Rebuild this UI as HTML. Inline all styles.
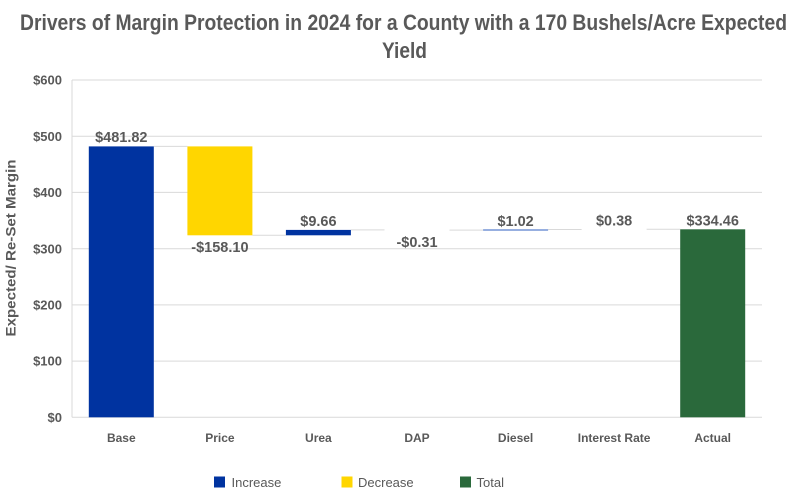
<!DOCTYPE html>
<html><head><meta charset="utf-8"><style>
html,body{margin:0;padding:0;background:#fff;}
svg{display:block;}
text{font-family:"Liberation Sans",Arial,sans-serif;fill:#595959;}
</style></head><body>
<svg width="800" height="500" viewBox="0 0 800 500" xmlns="http://www.w3.org/2000/svg">
<rect width="800" height="500" fill="#fff"/>
<!-- title -->
<text x="20" y="30" font-size="22" font-weight="bold" textLength="767" lengthAdjust="spacingAndGlyphs" fill="#555">Drivers of Margin Protection in 2024 for a County with a 170 Bushels/Acre Expected</text>
<text x="382" y="58" font-size="22" font-weight="bold" textLength="45" lengthAdjust="spacingAndGlyphs" fill="#555">Yield</text>
<!-- gridlines -->
<g stroke="#d9d9d9" stroke-width="1">
<line x1="72" y1="80" x2="762" y2="80"/>
<line x1="72" y1="136.2" x2="762" y2="136.2"/>
<line x1="72" y1="192.4" x2="762" y2="192.4"/>
<line x1="72" y1="248.7" x2="762" y2="248.7"/>
<line x1="72" y1="304.9" x2="762" y2="304.9"/>
<line x1="72" y1="361.1" x2="762" y2="361.1"/>
<line x1="72" y1="417.3" x2="762" y2="417.3"/>
<line x1="72" y1="80" x2="72" y2="417.3"/>
</g>
<!-- y tick labels -->
<g font-size="13" font-weight="bold" text-anchor="end">
<text x="62" y="84.6">$600</text>
<text x="62" y="140.8">$500</text>
<text x="62" y="197">$400</text>
<text x="62" y="253.3">$300</text>
<text x="62" y="309.5">$200</text>
<text x="62" y="365.7">$100</text>
<text x="62" y="421.9">$0</text>
</g>
<!-- y axis title -->
<text transform="translate(15.5,248) rotate(-90)" text-anchor="middle" font-size="14" font-weight="bold" textLength="177" lengthAdjust="spacingAndGlyphs">Expected/ Re-Set Margin</text>
<!-- connectors -->
<g stroke="#d9d9d9" stroke-width="1">
<line x1="153.8" y1="146.4" x2="187.4" y2="146.4"/>
<line x1="252.4" y1="235.3" x2="285.9" y2="235.3"/>
<line x1="350.9" y1="229.9" x2="384.5" y2="229.9"/>
<line x1="449.5" y1="230.1" x2="483.1" y2="230.1"/>
<line x1="548.1" y1="229.5" x2="581.6" y2="229.5"/>
<line x1="646.6" y1="229.3" x2="680.2" y2="229.3"/>
</g>
<!-- bars -->
<rect x="88.8" y="146.4" width="65" height="270.9" fill="#0033a0"/>
<rect x="187.4" y="146.4" width="65" height="88.9" fill="#ffd600"/>
<rect x="285.9" y="229.9" width="65" height="5.4" fill="#0033a0"/>
<rect x="483.1" y="229.5" width="65" height="1" fill="#2f5fc0"/>
<rect x="680.2" y="229.3" width="65" height="188" fill="#2a693b"/>
<!-- data labels -->
<g font-size="14.5" font-weight="bold" text-anchor="middle">
<text x="121.3" y="141.8">$481.82</text>
<text x="219.9" y="251.8">-$158.10</text>
<text x="318.4" y="225.8">$9.66</text>
<text x="417" y="246.8">-$0.31</text>
<text x="515.6" y="225.8">$1.02</text>
<text x="614.1" y="225.3">$0.38</text>
<text x="712.7" y="225.3">$334.46</text>
</g>
<!-- category labels -->
<g font-size="12" font-weight="bold" text-anchor="middle">
<text x="121.3" y="442">Base</text>
<text x="219.9" y="442">Price</text>
<text x="318.4" y="442">Urea</text>
<text x="417" y="442">DAP</text>
<text x="515.6" y="442">Diesel</text>
<text x="614.1" y="442">Interest Rate</text>
<text x="712.7" y="442">Actual</text>
</g>
<!-- legend -->
<rect x="214" y="476.5" width="11" height="11" fill="#0033a0"/>
<text x="231.5" y="487" font-size="13">Increase</text>
<rect x="341.5" y="476.5" width="11" height="11" fill="#ffd600"/>
<text x="358" y="487" font-size="13">Decrease</text>
<rect x="460" y="476.5" width="11" height="11" fill="#2a693b"/>
<text x="476.5" y="487" font-size="13">Total</text>
</svg>
</body></html>
